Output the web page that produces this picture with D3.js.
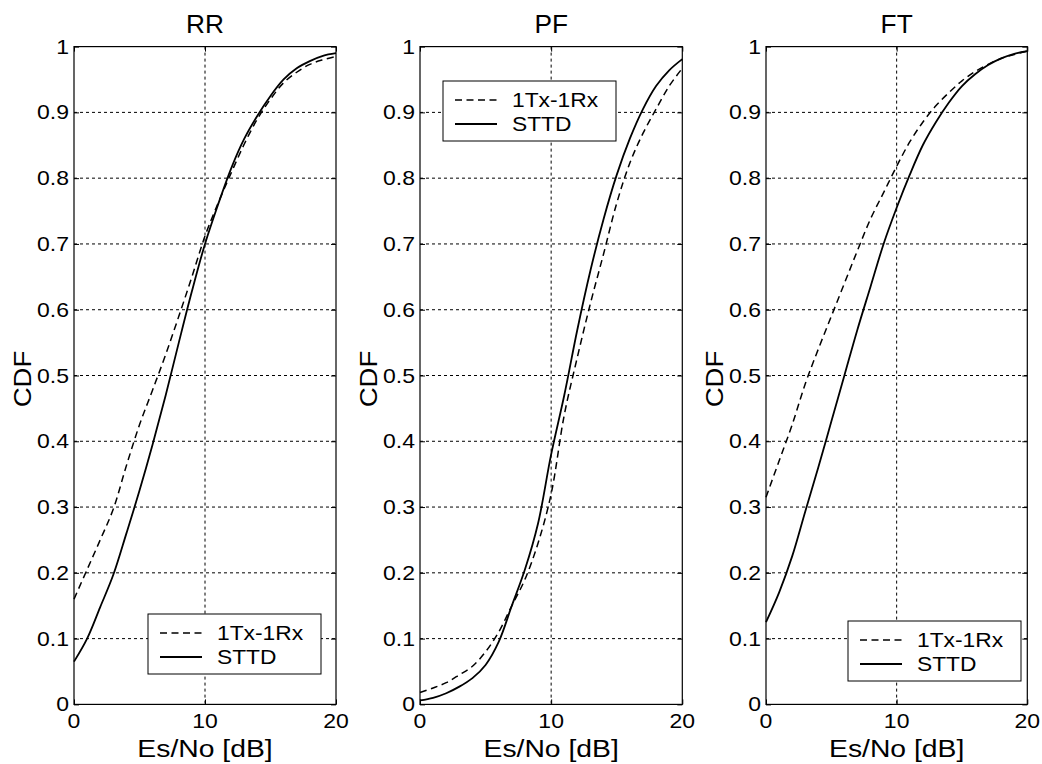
<!DOCTYPE html>
<html>
<head>
<meta charset="utf-8">
<script src="https://cdn.jsdelivr.net/npm/d3@7"></script>
<style>
  html, body { margin: 0; padding: 0; background: #fff; }
  svg { display: block; }
  text { font-family: "Liberation Sans", Arial, sans-serif; fill: #000; }
</style>
</head>
<body>
<svg id="chart" width="1042" height="764"></svg>
<script>
// ---- data ----
const snr = [0,1,2,3,4,5,6,7,8,9,10,11,12,13,14,15,16,17,18,19,20];
const seriesNames = ["1Tx-1Rx", "STTD"];
const panelTitles = ["RR", "PF", "FT"];
const xTicks = [0, 10, 20];
const yTicks = [0,0.1,0.2,0.3,0.4,0.5,0.6,0.7,0.8,0.9,1];
const yTickLabels = ["0","0.1","0.2","0.3","0.4","0.5","0.6","0.7","0.8","0.9","1"];

const rr1x1 = [0.16,0.205,0.25,0.297,0.363,0.425,0.478,0.532,0.59,0.65,0.712,0.762,0.808,0.852,0.89,0.92,0.945,0.961,0.973,0.98,0.985];
const rrSttd = [0.065,0.10,0.148,0.197,0.26,0.325,0.395,0.47,0.55,0.628,0.70,0.76,0.815,0.86,0.895,0.925,0.95,0.967,0.978,0.986,0.99];

const pf1x1 = [0.018,0.025,0.033,0.045,0.058,0.08,0.11,0.15,0.19,0.245,0.32,0.44,0.528,0.61,0.685,0.762,0.823,0.868,0.905,0.94,0.967];
const pfSttd = [0.006,0.01,0.017,0.027,0.04,0.06,0.095,0.15,0.205,0.275,0.38,0.47,0.57,0.66,0.738,0.805,0.86,0.905,0.94,0.964,0.981];

const ft1x1 = [0.315,0.37,0.425,0.487,0.54,0.59,0.64,0.69,0.738,0.778,0.818,0.855,0.885,0.91,0.93,0.948,0.962,0.973,0.982,0.988,0.993];
const ftSttd = [0.125,0.17,0.225,0.293,0.36,0.43,0.5,0.57,0.635,0.70,0.755,0.805,0.85,0.885,0.915,0.94,0.958,0.972,0.982,0.989,0.993];

const panelData = [[rr1x1, rrSttd],[pf1x1, pfSttd],[ft1x1, ftSttd]];

// ---- layout ----
const panels = [
  {left: 74,  right: 336,    legend: {x: 148, y: 614}},
  {left: 420, right: 682.3,  legend: {x: 443, y: 81}},
  {left: 766, right: 1027.3, legend: {x: 848, y: 621}}
];
const plotTop = 46.6, plotBottom = 704.4;
const svg = d3.select("#chart");
const dashSeries = "7,4.5";
const gridDash = "3,3";

// text helper: horizontally widened text, like the reference's rendering
function addText(parent, x, y, str, size, sx, anchor, rot) {
  const t = parent.append("text")
    .attr("transform", `translate(${x},${y})` + (rot ? ` rotate(${rot})` : "") + ` scale(${sx},1)`)
    .attr("text-anchor", anchor || "start")
    .attr("font-size", size + "px")
    .text(str);
  return t;
}

panels.forEach((p, i) => {
  const x = d3.scaleLinear().domain([0, 20]).range([p.left, p.right]);
  const y = d3.scaleLinear().domain([0, 1]).range([plotBottom, plotTop]);
  const g = svg.append("g");

  // grid
  g.append("g").selectAll("line").data(xTicks.slice(1, -1)).join("line")
    .attr("x1", d => x(d)).attr("x2", d => x(d)).attr("y1", plotTop).attr("y2", plotBottom)
    .attr("stroke", "#000").attr("stroke-width", 1).attr("stroke-dasharray", gridDash);
  g.append("g").selectAll("line").data(yTicks.slice(1, -1)).join("line")
    .attr("x1", p.left).attr("x2", p.right).attr("y1", d => y(d)).attr("y2", d => y(d))
    .attr("stroke", "#000").attr("stroke-width", 1).attr("stroke-dasharray", gridDash);

  // axes using d3 axis (ticks inside)
  const yAxisL = d3.axisLeft(y).tickValues(yTicks).tickSize(-5).tickFormat("");
  const yAxisR = d3.axisRight(y).tickValues(yTicks).tickSize(-5).tickFormat("");
  const xAxisB = d3.axisBottom(x).tickValues(xTicks).tickSize(-5).tickFormat("");
  const xAxisT = d3.axisTop(x).tickValues(xTicks).tickSize(-5).tickFormat("");
  [[yAxisL, `translate(${p.left},0)`],[yAxisR, `translate(${p.right},0)`],
   [xAxisB, `translate(0,${plotBottom})`],[xAxisT, `translate(0,${plotTop})`]].forEach(([ax, tr]) => {
    const a = g.append("g").attr("transform", tr).call(ax);
    a.select(".domain").remove();
    a.selectAll("line").attr("stroke", "#000").attr("stroke-width", 1);
  });

  // box
  g.append("rect").attr("x", p.left).attr("y", plotTop)
    .attr("width", p.right - p.left).attr("height", plotBottom - plotTop)
    .attr("fill", "none").attr("stroke", "#000").attr("stroke-width", 1.2);

  // tick labels
  yTicks.forEach((d, k) => {
    addText(g, p.left - 5, y(d) + 7, yTickLabels[k], 20, 1.15, "end");
  });
  xTicks.forEach(d => {
    addText(g, x(d), plotBottom + 24, String(d), 20, 1.15, "middle");
  });

  // title
  addText(g, (p.left + p.right) / 2, 33, panelTitles[i], 25, 1.05, "middle");
  // x label
  addText(g, (p.left + p.right) / 2, 757, "Es/No [dB]", 24, 1.18, "middle");
  // y label
  addText(g, p.left - 43, 379, "CDF", 24, 1.15, "middle", -90);

  // curves
  const line = d3.line().x((d, k) => x(snr[k])).y(d => y(d)).curve(d3.curveCatmullRom.alpha(0.5));
  panelData[i].forEach((vals, s) => {
    g.append("path").datum(vals).attr("d", line)
      .attr("fill", "none").attr("stroke", "#000")
      .attr("stroke-width", s === 0 ? 1.5 : 1.8)
      .attr("stroke-dasharray", s === 0 ? dashSeries : null);
  });

  // legend
  const L = p.legend;
  const lg = g.append("g").attr("transform", `translate(${L.x},${L.y})`);
  lg.append("rect").attr("width", 173).attr("height", 60)
    .attr("fill", "#fff").attr("stroke", "#000").attr("stroke-width", 1);
  seriesNames.forEach((name, s) => {
    const cy = 19 + s * 24;
    lg.append("line").attr("x1", 12).attr("x2", 54).attr("y1", cy).attr("y2", cy)
      .attr("stroke", "#000").attr("stroke-width", s === 0 ? 1.5 : 1.8)
      .attr("stroke-dasharray", s === 0 ? dashSeries : null);
    addText(lg, 69, cy + 7, name, 20, 1.14, "start");
  });
});
</script>
</body>
</html>
